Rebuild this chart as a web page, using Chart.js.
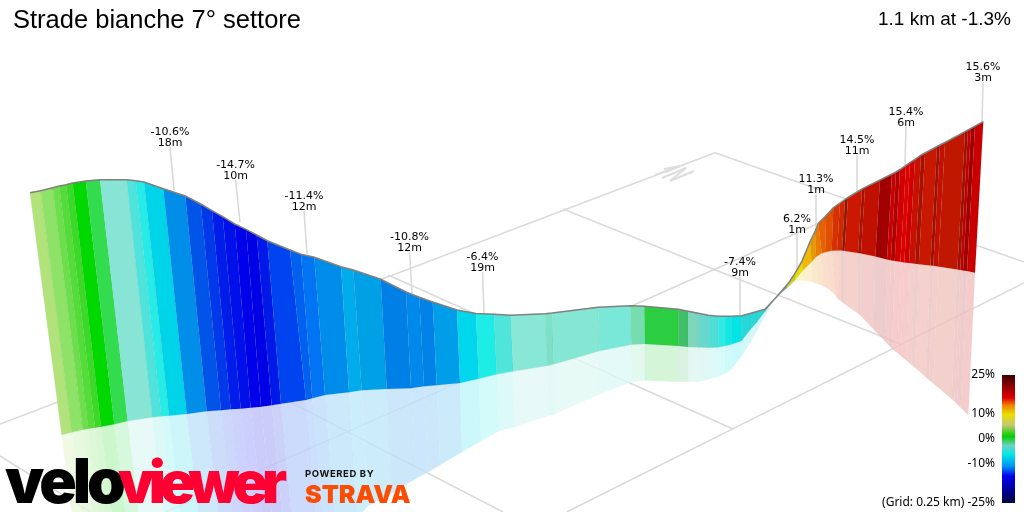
<!DOCTYPE html>
<html>
<head>
<meta charset="utf-8">
<title>Strade bianche 7° settore</title>
<script src="https://cdn.jsdelivr.net/npm/chart.js@4"></script>
<style>
  html, body { margin: 0; padding: 0; background: #fff; }
  #wrap { width: 1024px; height: 512px; }
</style>
</head>
<body>
<div id="wrap"><canvas id="chart" width="1024" height="512"></canvas></div>
<script>
// top edge of the profile, one value per colour change
const ridgeX = [30, 40.7, 52.7, 59.3, 66, 72.7, 85.7, 100, 126.7, 135.7, 144, 163.3, 185.3, 200.7, 212, 222.7, 234.7, 246, 256.7, 267.3, 290, 301, 314.3, 341, 353.3, 380.7, 406, 419.3, 432.7, 457, 476, 494, 510.7, 545.3, 552.3, 598, 630.3, 644.3, 678.3, 688.3, 698.3, 708.3, 718.3, 726, 731.7, 741.7, 750, 757, 765, 776.7, 788.3, 795, 801.7, 810, 815, 818.3, 825, 833.3, 840, 845, 848, 862, 865, 880, 892, 896, 900, 906, 910, 915, 921, 925, 937, 940, 945, 965, 968, 971, 975, 983.3];
const ridgeY = [192.7, 190.7, 187.7, 186, 184.7, 183, 181, 179.7, 179.7, 180.7, 182, 188.7, 196, 204, 210.7, 216.7, 224, 229.3, 235, 240.7, 250, 254.3, 257.3, 266.7, 270, 279.3, 292, 297.3, 302, 310, 313.5, 314.3, 315.3, 313.7, 313, 307.3, 305.8, 306.3, 309.3, 311.3, 313.3, 315.3, 316.3, 316.3, 316.3, 315.7, 313.5, 311.5, 309.3, 296.7, 283.3, 273.3, 261.7, 241.7, 231.7, 223.3, 216.7, 207.7, 203, 199.5, 197.5, 189, 187.4, 180, 174, 172, 169.5, 165.3, 162.7, 159.3, 155.2, 153, 146.5, 145, 142.5, 131.7, 130, 128.4, 126.2, 121.7];
// bottom of the coloured wall
const baseX = [61.7, 71.7, 82.7, 88.3, 95, 101, 114.3, 127.7, 152.3, 161.3, 169, 186.7, 206.7, 221, 230.7, 240.7, 250.7, 261, 271.7, 281, 306, 312.3, 325, 349, 361.7, 386.7, 411, 424, 436.7, 460, 478.7, 496.7, 513.3, 547.3, 553.7, 599.3, 631.3, 645, 678.3, 688.3, 698.3, 708.3, 718.3, 726, 731.7, 741.7, 750, 757, 765, 776, 786.7, 795, 803.3, 811.7, 816, 821.7, 826, 831.7, 837, 842, 844.6, 858, 861, 875.3, 887, 890.8, 894.7, 900.4, 904.3, 909, 915, 918.8, 930.4, 933.3, 938, 957.3, 960.2, 963, 967, 975];
const baseY = [434.7, 432.3, 429.7, 428.7, 427.7, 426.7, 424.3, 421, 417.3, 416.3, 415.7, 414, 411.3, 410.3, 409.3, 408.7, 407.7, 406.7, 405.3, 403.7, 400, 398.3, 395, 392.3, 390.3, 389, 388.3, 386.3, 385.3, 383, 378.7, 374.3, 371.3, 365.7, 364.3, 351, 344.5, 344, 346, 347, 347.3, 347.7, 347.3, 345.7, 344.3, 340.7, 330, 322, 311.5, 297, 288.3, 280, 270, 261.7, 257, 253.3, 252, 250.7, 250.5, 250.6, 251, 253, 253.4, 256.5, 259.5, 260.3, 261, 261.8, 262.5, 263, 263.8, 264.2, 265.6, 265.8, 266.4, 269.5, 270, 270.5, 271, 272.7];
// lower edge of the pale projection on the ground
const shadowX = [83, 93, 103, 109, 115, 121, 134, 147, 171, 180, 187, 205, 224, 238, 247, 257, 267, 276, 286, 295, 318, 324, 336, 357, 368, 391, 415, 428, 440, 462, 481, 499, 515, 548.3, 555, 599.3, 631.7, 645, 678.3, 688.3, 698.3, 708.3, 718.3, 726, 731.7, 741.7, 750, 757, 765, 776, 786.7, 795, 803.3, 811.7, 818, 823, 830, 836, 838, 842, 844.5, 857.3, 860, 873.7, 884.7, 888.4, 892, 897.5, 901, 906, 911.3, 915, 926, 929, 933.3, 951.6, 954.3, 957, 960.6, 968.3];
const shadowY = [600, 596, 592, 590, 588, 586, 584, 580, 576, 574, 572, 570, 566, 564, 562, 560, 558, 556, 554, 552, 540, 532, 528, 518, 506, 494, 479, 472, 465, 452, 441, 431, 426.7, 415.7, 414, 394.3, 382, 380.5, 381.7, 381.7, 381.7, 379.5, 376.5, 373, 369, 356, 343, 331, 316, 297, 288.3, 282, 280.5, 281.7, 284, 286, 290, 296, 299, 302, 304, 313, 315, 329.6, 341, 345, 348.8, 353, 356, 360, 364.5, 367.5, 377.5, 380, 383.5, 399, 401.3, 404, 407.5, 415];
const stripColors = ["#B2E37A", "#8FE268", "#6EDF4C", "#54DC38", "#3DD928", "#00D800", "#33DC4E", "#88E5D5", "#4FE3DC", "#27EBE6", "#00D4E8", "#008EE8", "#0054E8", "#0038EA", "#001CEA", "#0010EA", "#0000EA", "#0000E6", "#0018E8", "#0044F0", "#0060F0", "#0074F2", "#008CEA", "#00ACEB", "#00A0E6", "#0080E6", "#0088EC", "#0082E8", "#009DE8", "#00D6EC", "#1EEDE6", "#50E5DA", "#88E8D5", "#7DE0C8", "#85E7D3", "#7AE8D8", "#75DDAF", "#2BCE40", "#3FBF68", "#7ED6BC", "#68D8CC", "#50DDD6", "#2CEBE5", "#10E8E5", "#00E4E6", "#28D8D8", "#28D8D8", "#28D8D8", "#3CC0B0", "#70B070", "#C8D020", "#E8DC00", "#F0B800", "#E89800", "#E87C00", "#E86000", "#E05000", "#D83000", "#D02800", "#901800", "#CC1800", "#A81000", "#C01000", "#A00000", "#C80000", "#B00000", "#D00000", "#E00000", "#D00000", "#C81000", "#A81000", "#C81800", "#A01000", "#C41000", "#C01800", "#A01000", "#C00000", "#A00000", "#C80000"];

// ground grid, each line as [x0, y0, x1, y1]
const gridLines = [
  [0, 424, 715, 152.7],
  [715, 152.7, 1024, 262],
  [563, 209, 903, 345],
  [1024, 283, 566.7, 512],
  [388, 275, 733, 429],
  [166, 512, 860, 205],
  [290, 402, 503, 512],
  [0, 456, 90, 512],
];
const northArrow = [
  [655, 175, 680, 166],
  [664, 169, 680, 166],
  [666, 172, 680, 166],
  [662, 178, 686, 168],
  [686, 168, 670, 181],
  [670, 181, 694, 171],
];

// gradient callouts
const calloutGrades = ["-10.6%", "-14.7%", "-11.4%", "-10.8%", "-6.4%", "-7.4%", "6.2%", "11.3%", "14.5%", "15.4%", "15.6%"];
const calloutLengths = ["18m", "10m", "12m", "12m", "19m", "9m", "1m", "1m", "11m", "6m", "3m"];
const calloutX = [170, 235.6, 304, 409.5, 482.5, 740, 797, 816, 857, 906, 983];
const calloutY = [131, 164, 195, 235.5, 256, 261, 218, 177.5, 139, 111, 66];
const leaderEndX = [174, 240, 307, 412, 484, 740, 797, 816, 857, 905, 982];
const leaderEndY = [190, 222, 254, 293, 314, 316, 272, 230, 192, 165, 122];

// colour bar
const scaleLabels = ["25%", "10%", "0%", "-10%", "(Grid: 0.25 km) -25%"];
const scaleLabelY = [374, 413, 438, 463, 502];
const scaleStops = [0, 0.09, 0.18, 0.235, 0.31, 0.39, 0.48, 0.55, 0.62, 0.715, 0.79, 0.91, 1];
const scaleColors = ["#3F0000", "#900000", "#E00000", "#F08000", "#E8E000", "#C8C870", "#00D000", "#70D0C0", "#00E8E8", "#0090F0", "#0000F0", "#000090", "#000040"];

const datasets = [];

function addLine(points, color, width) {
  datasets.push({
    data: points,
    showLine: true,
    borderColor: color,
    borderWidth: width,
    pointRadius: 0,
    tension: 0,
  });
}

function addPolygon(points, fill, edge, veil) {
  addLine(points.concat([points[0]]), edge, 1);
  datasets[datasets.length - 1].polygonFill = fill;
  datasets[datasets.length - 1].polygonVeil = veil;
}

function segment(s) {
  return [{ x: s[0], y: s[1] }, { x: s[2], y: s[3] }];
}

gridLines.forEach((s) => addLine(segment(s), "#DADADA", 1.5));
northArrow.forEach((s) => addLine(segment(s), "#DDDDDD", 2));
calloutX.forEach((x, i) => {
  addLine(segment([x, calloutY[i] + 16, leaderEndX[i], leaderEndY[i]]), "#D8D8D8", 1.5);
});

stripColors.forEach((color, i) => {
  addPolygon(
    [
      { x: baseX[i], y: baseY[i] },
      { x: baseX[i + 1], y: baseY[i + 1] },
      { x: shadowX[i + 1], y: shadowY[i + 1] },
      { x: shadowX[i], y: shadowY[i] },
    ],
    color + "33",
    color + "08",
    "rgba(255,255,255,0.75)"
  );
});
stripColors.forEach((color, i) => {
  addPolygon(
    [
      { x: ridgeX[i], y: ridgeY[i] },
      { x: ridgeX[i + 1], y: ridgeY[i + 1] },
      { x: baseX[i + 1], y: baseY[i + 1] },
      { x: baseX[i], y: baseY[i] },
    ],
    color,
    "rgba(50,50,50,0.08)"
  );
});
addLine(ridgeX.map((x, i) => ({ x: x, y: ridgeY[i] })), "#808080", 1.5);
addPolygon(
  [{ x: 1002, y: 375 }, { x: 1015, y: 375 }, { x: 1015, y: 503 }, { x: 1002, y: 503 }],
  "colorbar",
  "rgba(0,0,0,0)"
);

// painter's order: first pushed is drawn first
datasets.forEach((d, i) => { d.order = datasets.length - i; });

const polygonPlugin = {
  id: "polygonFill",
  afterDatasetDraw(chart, args) {
    const ds = chart.data.datasets[args.index];
    if (!ds.polygonFill) return;
    const ctx = chart.ctx;
    const pts = args.meta.data;
    ctx.save();
    ctx.beginPath();
    pts.forEach((p, i) => (i ? ctx.lineTo(p.x, p.y) : ctx.moveTo(p.x, p.y)));
    ctx.closePath();
    if (ds.polygonVeil) {
      ctx.fillStyle = ds.polygonVeil;
      ctx.fill();
    }
    if (ds.polygonFill === "colorbar") {
      const g = ctx.createLinearGradient(0, pts[0].y, 0, pts[2].y);
      scaleStops.forEach((s, i) => g.addColorStop(s, scaleColors[i]));
      ctx.fillStyle = g;
    } else {
      ctx.fillStyle = ds.polygonFill;
    }
    ctx.fill();
    ctx.restore();
  },
};

function drawText(ctx, text, x, y, font, color, align, spacing) {
  ctx.font = font;
  ctx.fillStyle = color;
  ctx.textAlign = align || "left";
  ctx.textBaseline = "alphabetic";
  ctx.letterSpacing = spacing || "0px";
  ctx.fillText(text, x, y);
}

const textPlugin = {
  id: "pageText",
  afterDraw(chart) {
    const ctx = chart.ctx;
    const sx = chart.scales.x;
    const sy = chart.scales.y;
    ctx.save();
    drawText(ctx, "Strade bianche 7° settore", 13, 28, "25.5px 'Liberation Sans'", "#000");
    drawText(ctx, "1.1 km at -1.3%", 1011, 25, "19px 'Liberation Sans'", "#000", "right");
    calloutX.forEach((x, i) => {
      const px = sx.getPixelForValue(x);
      const py = sy.getPixelForValue(calloutY[i]);
      drawText(ctx, calloutGrades[i], px, py + 4, "11px 'DejaVu Sans'", "#000", "center");
      drawText(ctx, calloutLengths[i], px, py + 15, "11px 'DejaVu Sans'", "#000", "center");
    });
    scaleLabels.forEach((label, i) => {
      drawText(ctx, label, sx.getPixelForValue(995), sy.getPixelForValue(scaleLabelY[i]) + 4, "12px 'Noto Sans'", "#000", "right");
    });
    drawText(ctx, "velo", 5, 503, "900 62px Inter", "#000", "left", "-4px");
    drawText(ctx, "viewer", 118, 503, "900 58px Inter", "#FF0033", "left", "-6px");
    drawText(ctx, "POWERED BY", 305, 477, "bold 9.5px Inter", "#111", "left", "0.6px");
    drawText(ctx, "STRAVA", 305, 503, "900 25px Inter", "#FC4C02", "left", "0px");
    ctx.restore();
  },
};

new Chart(document.getElementById("chart").getContext("2d"), {
  type: "scatter",
  data: { datasets: datasets },
  options: {
    responsive: false,
    animation: false,
    events: [],
    layout: { padding: 0 },
    plugins: { legend: { display: false }, tooltip: { enabled: false }, title: { display: false } },
    scales: {
      x: { type: "linear", display: false, min: 0, max: 1024 },
      y: { type: "linear", display: false, min: 0, max: 512, reverse: true },
    },
  },
  plugins: [polygonPlugin, textPlugin],
});
</script>
</body>
</html>
